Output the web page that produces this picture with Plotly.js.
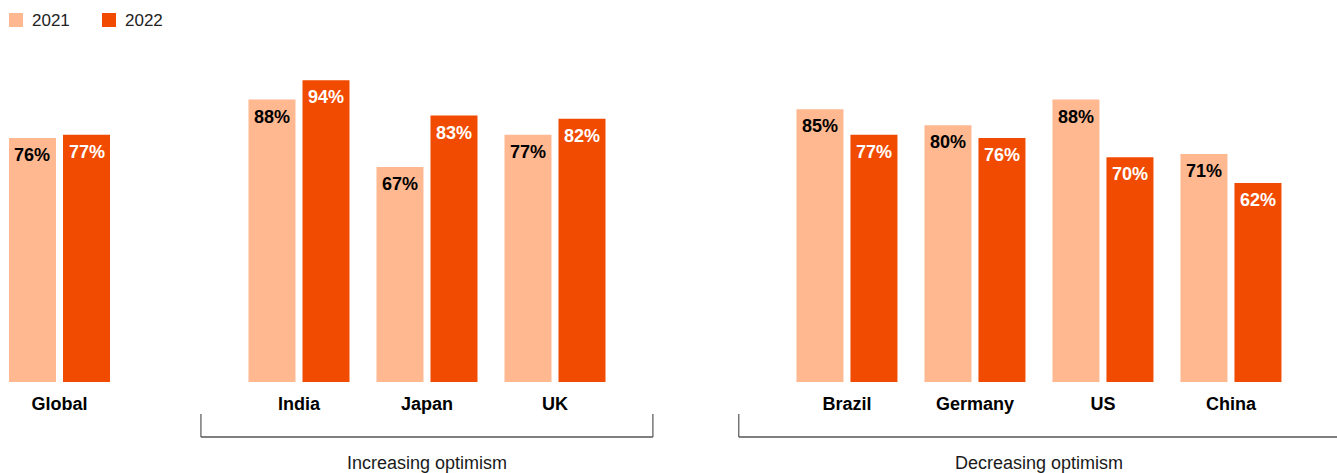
<!DOCTYPE html>
<html>
<head>
<meta charset="utf-8">
<script src="https://cdn.plot.ly/plotly-3.0.1.min.js"></script>
<style>
  html, body { margin: 0; padding: 0; background: #fff; overflow: hidden; }
  #chart { width: 1337px; height: 473px; }
</style>
</head>
<body>
<div id="chart"></div>
<script>
// ---- data ----
const categories = ["Global", "India", "Japan", "UK", "Brazil", "Germany", "US", "China"];
const values2021 = [76, 88, 67, 77, 85, 80, 88, 71];
const values2022 = [77, 94, 83, 82, 77, 76, 70, 62];
const seriesNames = ["2021", "2022"];
const groupTitles = ["Increasing optimism", "Decreasing optimism"];

// ---- layout constants (x in units of one group slot) ----
const groupPos = [0, 1.871, 2.871, 3.871, 6.152, 7.152, 8.152, 9.152];
const xRange = [-0.4648, 9.9805];
const barHalfOffset = 0.211;            // centre of each bar relative to group centre
const brackets = [[1.105, 4.636], [5.307, 10.2]];
const colors = ["#FFB890", "#F04B00"];
const textColors = ["#000000", "#FFFFFF"];
const FONT = "'Liberation Sans', Arial, Helvetica, sans-serif";
const W = 1337, H = 473, MT = 61, MB = 91;

const toPaper = v => (v - xRange[0]) / (xRange[1] - xRange[0]);
const pyToPaper = py => (H - MB - py) / (H - MT - MB);

const traces = [values2021, values2022].map((vals, i) => ({
  type: "bar",
  name: seriesNames[i],
  x: groupPos,
  y: vals,
  marker: { color: colors[i], line: { width: 0 } },
  hoverinfo: "skip",
  showlegend: false
}));

const annotations = [];
[values2021, values2022].forEach((vals, i) => {
  vals.forEach((v, j) => {
    annotations.push({
      x: groupPos[j] + (i === 0 ? -barHalfOffset : barHalfOffset),
      y: v, xref: "x", yref: "y",
      text: v + "%",
      showarrow: false,
      yanchor: "middle",
      yshift: -17,
      font: { family: FONT, size: 18, color: textColors[i], weight: "bold" }
    });
  });
});

const shapes = [];
brackets.forEach((b) => {
  const x0 = toPaper(b[0]), x1 = toPaper(b[1]);
  const yTop = pyToPaper(414), yBot = pyToPaper(437);
  shapes.push({ type: "line", xref: "paper", yref: "paper", x0: x0, x1: Math.min(x1, 1.01), y0: yBot, y1: yBot, line: { color: "#000", width: 1.2 } });
  shapes.push({ type: "line", xref: "paper", yref: "paper", x0: x0, x1: x0, y0: yTop, y1: yBot, line: { color: "#555", width: 1.2 } });
  if (b[1] <= xRange[1]) {
    shapes.push({ type: "line", xref: "paper", yref: "paper", x0: x1, x1: x1, y0: yTop, y1: yBot, line: { color: "#555", width: 1.2 } });
  }
});

annotations.push({
  xref: "paper", yref: "paper", x: toPaper(2.871), y: pyToPaper(463),
  text: groupTitles[0], showarrow: false, xanchor: "center", yanchor: "middle",
  font: { family: FONT, size: 18, color: "#1a1a1a" }
});
annotations.push({
  xref: "paper", yref: "paper", x: toPaper(7.652), y: pyToPaper(463),
  text: groupTitles[1], showarrow: false, xanchor: "center", yanchor: "middle",
  font: { family: FONT, size: 18, color: "#1a1a1a" }
});

// legend (drawn as swatches + labels)
const legendSwatchX = [9, 102];
seriesNames.forEach((name, i) => {
  shapes.push({
    type: "rect", xref: "paper", yref: "paper",
    x0: legendSwatchX[i] / W, x1: (legendSwatchX[i] + 14) / W,
    y0: pyToPaper(27), y1: pyToPaper(13),
    fillcolor: colors[i], line: { width: 0 }
  });
  annotations.push({
    xref: "paper", yref: "paper", x: (legendSwatchX[i] + 21) / W, y: pyToPaper(20.5),
    xanchor: "left", yanchor: "middle", showarrow: false, text: name,
    font: { family: FONT, size: 17, color: "#222" }
  });
});

const layout = {
  width: W, height: H,
  margin: { l: 0, r: 0, t: MT, b: MB, pad: 0, autoexpand: false },
  paper_bgcolor: "#fff", plot_bgcolor: "#fff",
  barmode: "group",
  bargap: 0.156,
  bargroupgap: 0.13,
  showlegend: false,
  xaxis: {
    range: xRange, tickmode: "array", tickvals: groupPos, ticktext: categories,
    showgrid: false, zeroline: false, showline: false, ticks: "",
    ticklabelstandoff: 9,
    tickfont: { family: FONT, size: 18, color: "#000", weight: "bold" },
    fixedrange: true
  },
  yaxis: { range: [0, 100], visible: false, fixedrange: true },
  shapes: shapes,
  annotations: annotations,
  font: { family: FONT }
};

Plotly.newPlot("chart", traces, layout, { displayModeBar: false, staticPlot: true });
</script>
</body>
</html>
